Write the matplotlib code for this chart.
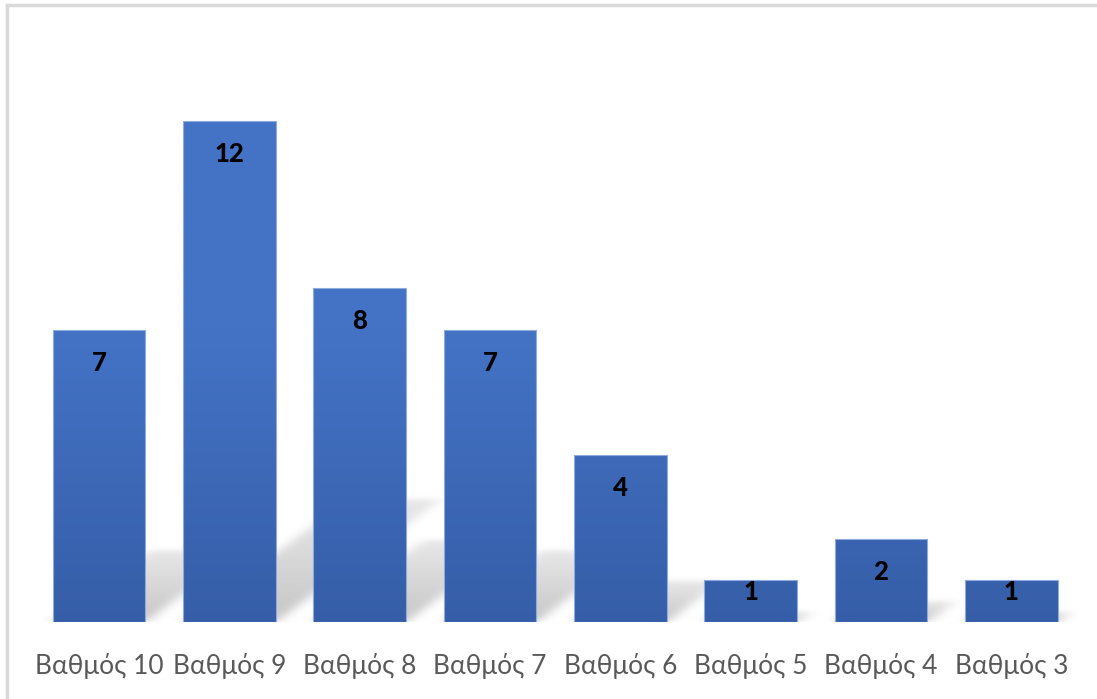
import numpy as np
import matplotlib
matplotlib.use("Agg")
import matplotlib.pyplot as plt
from matplotlib.path import Path

categories = ["Βαθμός 10", "Βαθμός 9", "Βαθμός 8", "Βαθμός 7",
              "Βαθμός 6", "Βαθμός 5", "Βαθμός 4", "Βαθμός 3"]
counts = [7, 12, 8, 7, 4, 1, 2, 1]

plt.rcParams['font.family'] = ['Lato', 'DejaVu Sans']

fig = plt.figure(figsize=(10.97, 6.99), dpi=100)
ax = fig.add_axes([0.0309, 0.110, 0.9504, 0.837])
ax.set_xlim(-0.5, len(categories) - 0.5)
ax.set_ylim(0, 14)

bar_w = 0.71
x = np.arange(len(categories))

# soft floor shadows (perspective, toward upper right)
sx, sy = 0.1055, 0.244
nx, ny = 1400, 600
gx = np.linspace(-0.5, len(categories) - 0.5, nx)
gy = np.linspace(0, 4, ny)
GX, GY = np.meshgrid(gx, gy)
shade = np.zeros_like(GX)
pts = np.column_stack([GX.ravel(), GY.ravel()])
for xi, h in zip(x, counts):
    x0, x1 = xi - bar_w / 2, xi + bar_w / 2
    poly = Path([(x0, 0), (x1, 0), (x1 + sx * h, sy * h), (x0 + sx * h, sy * h)])
    inside = poly.contains_points(pts).reshape(GX.shape)
    fade = 1 - 0.6 * np.clip(GY / (sy * h), 0, 1)
    shade = np.maximum(shade, inside * fade)

def blur(a, sigma, axis):
    r = int(3 * sigma)
    k = np.exp(-0.5 * (np.arange(-r, r + 1) / sigma) ** 2)
    k /= k.sum()
    return np.apply_along_axis(lambda v: np.convolve(v, k, mode='same'), axis, a)

shade = blur(blur(shade, 9, 1), 9, 0)
rgba = np.zeros(shade.shape + (4,))
rgba[..., :3] = 0.55
rgba[..., 3] = shade * 0.5
ax.imshow(rgba, extent=(gx[0], gx[-1], 0, 4), origin='lower',
          aspect='auto', zorder=1, interpolation='bilinear')

# gradient bars
bars = ax.bar(x, counts, width=bar_w, color='none', edgecolor='#8FAADC',
              linewidth=0.8, zorder=3)
grad = np.linspace(0, 1, 256)
top_c = np.array([68, 115, 198]) / 255
bot_c = np.array([54, 94, 168]) / 255
for b in bars:
    x0, y0 = b.get_x(), b.get_y()
    w, h = b.get_width(), b.get_height()
    img = np.zeros((256, 1, 3))
    t = np.clip(grad * h / 7, 0, 1)
    for k in range(3):
        img[:, 0, k] = bot_c[k] + (top_c[k] - bot_c[k]) * t
    im = ax.imshow(img, extent=(x0, x0 + w, y0, y0 + h), origin='lower',
                   aspect='auto', zorder=2, interpolation='bilinear')
    im.set_clip_path(b)

for xi, h in zip(x, counts):
    ly = max(h - 0.79, 0.72)
    ax.text(xi, ly, str(h), ha='center', va='center', fontsize=18.5,
            fontweight='black', color='black', zorder=4)

ax.set_xticks(x)
ax.set_xticklabels(categories, fontsize=19, color='#595959')
ax.tick_params(axis='x', length=0, pad=22)
ax.set_yticks([])
for s in ax.spines.values():
    s.set_visible(False)

# chart frame (top and left edges visible)
fig.add_artist(plt.Line2D([0.0064, 0.0064], [0, 0.9928], color='#D9D9D9',
                          lw=2.5, transform=fig.transFigure))
fig.add_artist(plt.Line2D([0.0064, 1.0], [0.9928, 0.9928], color='#D9D9D9',
                          lw=2.5, transform=fig.transFigure))

fig.savefig("out.png", dpi=100)
